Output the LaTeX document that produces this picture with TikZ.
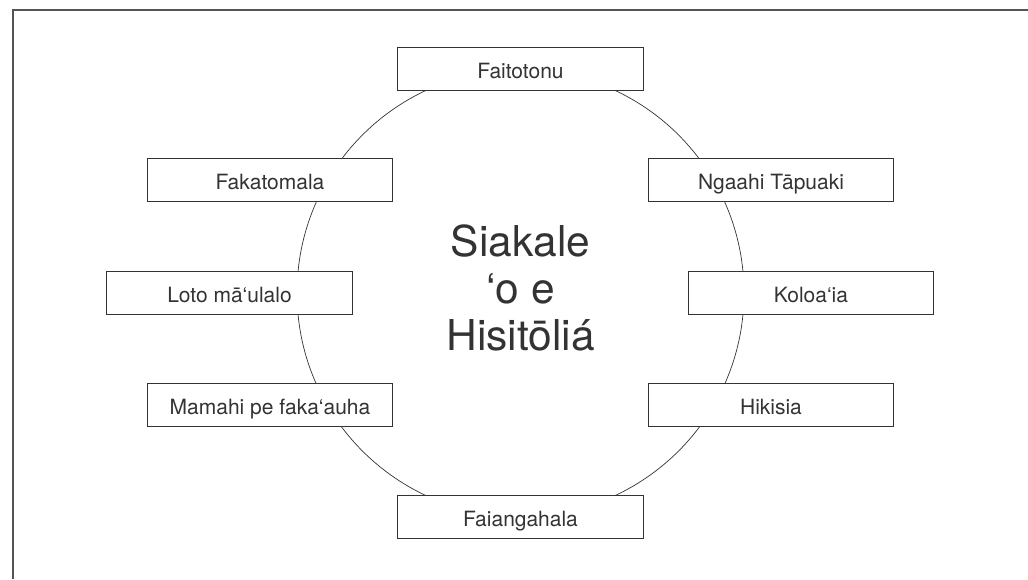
\documentclass[tikz,border=0pt]{standalone}
\usepackage{fontspec}
\setmainfont{TeX Gyre Heros}
\definecolor{ink}{HTML}{333333}
\definecolor{framec}{HTML}{555555}
\begin{document}
\begin{tikzpicture}[x=1pt,y=-1pt,
  topicbox/.style={draw=ink, line width=0.9pt, fill=white, text=ink,
    minimum width=245.5pt, minimum height=42.6pt, inner sep=0pt,
    text height=20pt, text depth=2pt,
    font=\fontsize{21}{24}\selectfont},
  bigtext/.style={text=ink, anchor=base, inner sep=0pt,
    font=\fontsize{42.5}{47}\selectfont}]
\useasboundingbox (0,0) rectangle (1028,579);
% frame corner
\draw[framec, line width=1.2pt] (13,579) -- (13,10) -- (1028,10);
% circle
\coordinate (c) at (520.5,293);
\draw[ink, line width=0.7pt] (c) circle (223.5);
% boxes
\node[topicbox] (faitotonu) at (520.5,69) {Faitotonu};
\node[topicbox] (fakatomala) at (270,180) {Fakatomala};
\node[topicbox] (loto) at (229.5,293) {Loto mā‘ulalo};
\node[topicbox] (mamahi) at (270,405) {Mamahi pe faka‘auha};
\node[topicbox] (faiangahala) at (520.5,517) {Faiangahala};
\node[topicbox] (tapuaki) at (771,180) {Ngaahi Tāpuaki};
\node[topicbox] (koloaia) at (811,293) {Koloa‘ia};
\node[topicbox] (hikisia) at (771,405) {Hikisia};
% centre title
\node[bigtext] (t1) at (520.5,256.5) {Siakale};
\node[bigtext] (t2) at (520.5,303.5) {‘o e};
\node[bigtext] (t3) at (520.5,350.5) {Hisitōliá};
\end{tikzpicture}
\end{document}
